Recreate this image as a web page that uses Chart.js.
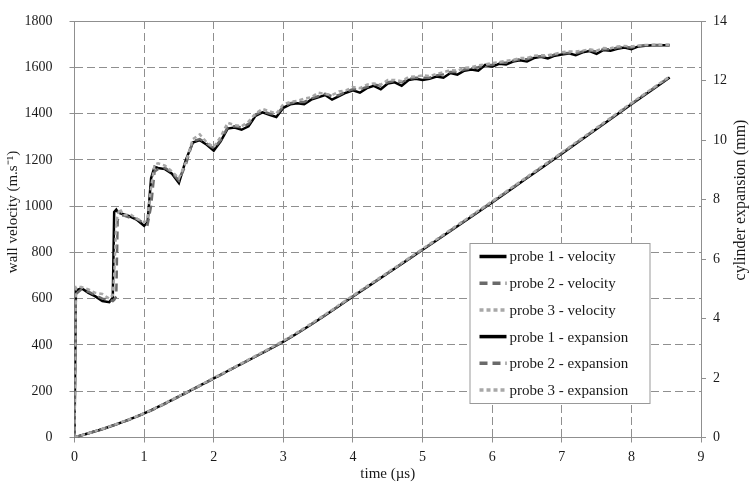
<!DOCTYPE html>
<html>
<head>
<meta charset="utf-8">
<script src="https://cdn.jsdelivr.net/npm/chart.js@4.4.1/dist/chart.umd.min.js"></script>
<style>
  html, body { margin: 0; padding: 0; background: #fff; }
  #wrap { width: 752px; height: 483px; }
</style>
</head>
<body>
<div id="wrap"><canvas id="chart" width="752" height="483"></canvas></div>
<script>
// velocity time base (us)
const velTime = [
  0, 0.02, 0.1, 0.2, 0.3, 0.4, 0.5, 0.55, 0.57, 0.6, 0.62, 0.65, 0.7, 0.8, 0.9, 1.0, 1.05, 1.1, 1.15, 1.2,
  1.3, 1.4, 1.5, 1.6, 1.7, 1.8, 1.9, 2.0,
  2.1, 2.2, 2.3, 2.4, 2.5, 2.6, 2.7, 2.8, 2.9, 3.0,
  3.1, 3.2, 3.3, 3.4, 3.5, 3.6, 3.7, 3.8, 3.9, 4.0,
  4.1, 4.2, 4.3, 4.4, 4.5, 4.6, 4.7, 4.8, 4.9, 5.0,
  5.1, 5.2, 5.3, 5.4, 5.5, 5.6, 5.7, 5.8, 5.9, 6.0,
  6.1, 6.2, 6.3, 6.4, 6.5, 6.6, 6.7, 6.8, 6.9, 7.0,
  7.1, 7.2, 7.3, 7.4, 7.5, 7.6, 7.7, 7.8, 7.9, 8.0,
  8.1, 8.2, 8.3, 8.4, 8.5, 8.55
];

// wall velocity (m/s)
const vel1 = [
  0, 635, 645, 625, 610, 590, 585, 605, 975, 985, 975, 970, 965, 955, 940, 915, 930, 1120, 1170, 1165,
  1160, 1140, 1100, 1200, 1275, 1285, 1265, 1240,
  1280, 1335, 1340, 1330, 1345, 1390, 1405, 1395, 1385, 1425,
  1440, 1445, 1440, 1460, 1470, 1480, 1460, 1475, 1490, 1500,
  1490, 1510, 1520, 1505, 1530, 1535, 1520, 1545, 1550, 1545,
  1550, 1560, 1555, 1575, 1568, 1585, 1590, 1585, 1610, 1603,
  1615, 1612, 1625, 1630, 1625, 1640, 1645, 1638, 1650, 1655,
  1660, 1652, 1665, 1670, 1658, 1675, 1672, 1680, 1685, 1678,
  1690, 1693, 1695, 1695, 1695, 1695
];
const vel2 = [
  0, 620, 640, 630, 615, 600, 595, 590, 595, 610, 940, 955, 960, 950, 945, 925, 920, 1000, 1150, 1160,
  1165, 1145, 1110, 1180, 1280, 1290, 1270, 1250,
  1285, 1340, 1345, 1340, 1355, 1395, 1410, 1400, 1395, 1430,
  1445, 1450, 1450, 1465, 1475, 1485, 1475, 1480, 1495, 1505,
  1505, 1515, 1525, 1520, 1535, 1540, 1535, 1550, 1555, 1555,
  1555, 1565, 1570, 1580, 1580, 1590, 1595, 1600, 1610, 1610,
  1620, 1620, 1628, 1635, 1635, 1645, 1648, 1645, 1655, 1660,
  1662, 1660, 1668, 1672, 1668, 1678, 1678, 1685, 1688, 1685,
  1692, 1695, 1696, 1696, 1696, 1696
];
const vel3 = [
  0, 650, 650, 640, 625, 620, 600, 615, 700, 930, 960, 990, 960, 965, 945, 930, 950, 1080, 1180, 1185,
  1175, 1150, 1120, 1190, 1290, 1310, 1275, 1255,
  1300, 1360, 1350, 1345, 1365, 1400, 1420, 1410, 1400, 1440,
  1450, 1455, 1465, 1470, 1490, 1485, 1480, 1495, 1500, 1515,
  1510, 1525, 1530, 1525, 1545, 1545, 1540, 1558, 1560, 1565,
  1562, 1572, 1578, 1588, 1585, 1598, 1600, 1608, 1612, 1618,
  1622, 1628, 1632, 1640, 1640, 1650, 1652, 1652, 1658, 1665,
  1668, 1668, 1672, 1678, 1672, 1683, 1682, 1690, 1692, 1690,
  1694, 1696, 1697, 1697, 1697, 1697
];

// cylinder expansion (mm)
const expTime = [0, 0.5, 1, 1.5, 2, 2.5, 3, 3.5, 4, 4.5, 5, 5.5, 6, 6.5, 7, 7.5, 8, 8.55];
const exp1 = [0, 0.36, 0.81, 1.38, 1.99, 2.6, 3.22, 3.95, 4.74, 5.52, 6.31, 7.1, 7.9, 8.72, 9.54, 10.37, 11.2, 12.1];
const exp2 = [0, 0.36, 0.8, 1.37, 1.98, 2.6, 3.23, 3.96, 4.75, 5.53, 6.32, 7.12, 7.92, 8.74, 9.56, 10.39, 11.22, 12.12];
const exp3 = [0, 0.37, 0.82, 1.39, 2.0, 2.62, 3.25, 3.98, 4.77, 5.55, 6.34, 7.14, 7.94, 8.76, 9.58, 10.41, 11.24, 12.14];

const seriesLabels = [
  'probe 1 - velocity', 'probe 2 - velocity', 'probe 3 - velocity',
  'probe 1 - expansion', 'probe 2 - expansion', 'probe 3 - expansion'
];

const toPoints = (xs, ys) => xs.map((x, i) => ({ x: x, y: ys[i] }));

const FONT = '"Liberation Serif", "Times New Roman", serif';
const GRID = '#8f8f8f';
const TEXT = '#1a1a1a';

const styles = [
  { color: '#000000', dash: [] },
  { color: '#6a6a6a', dash: [8, 5] },
  { color: '#a8a8a8', dash: [4, 3] }
];

const datasets = [];
[vel1, vel2, vel3].forEach((v, i) => {
  datasets.push({
    label: seriesLabels[i],
    data: toPoints(velTime, v),
    yAxisID: 'y',
    borderColor: styles[i].color,
    borderDash: styles[i].dash,
    borderWidth: 2.5,
    pointRadius: 0,
    tension: 0,
    order: 3 - i
  });
});
[exp1, exp2, exp3].forEach((v, i) => {
  datasets.push({
    label: seriesLabels[i + 3],
    data: toPoints(expTime, v),
    yAxisID: 'y1',
    borderColor: styles[i].color,
    borderDash: styles[i].dash,
    borderWidth: 2.5,
    pointRadius: 0,
    cubicInterpolationMode: 'monotone',
    order: 3 - i
  });
});

// solid top frame line + both vertical axis titles (both read bottom to top)
const frameAndTitles = {
  id: 'frameAndTitles',
  afterDraw(chart) {
    const { ctx, chartArea } = chart;
    ctx.save();
    ctx.strokeStyle = GRID;
    ctx.lineWidth = 1;
    ctx.beginPath();
    ctx.moveTo(chartArea.left, chartArea.top + 0.5);
    ctx.lineTo(chartArea.right, chartArea.top + 0.5);
    ctx.stroke();

    ctx.fillStyle = TEXT;
    ctx.textAlign = 'center';
    ctx.textBaseline = 'middle';
    ctx.font = '15px ' + FONT;
    ctx.save();
    ctx.translate(13, 212);
    ctx.rotate(-Math.PI / 2);
    ctx.fillText('wall velocity (m.s⁻¹)', 0, 0);
    ctx.restore();

    ctx.font = '16px ' + FONT;
    ctx.save();
    ctx.translate(741, 200);
    ctx.rotate(-Math.PI / 2);
    ctx.fillText('cylinder expansion (mm)', 0, 0);
    ctx.restore();
    ctx.restore();
  }
};

// legend box drawn inside the plot
const boxLegend = {
  id: 'boxLegend',
  afterDatasetsDraw(chart) {
    const { ctx, chartArea } = chart;
    const x0 = chartArea.left + 395;
    const y0 = chartArea.top + 222;
    const w = 180, h = 160, rowH = 26.7;
    ctx.save();
    ctx.fillStyle = '#fff';
    ctx.fillRect(x0, y0, w, h);
    ctx.strokeStyle = '#999';
    ctx.lineWidth = 1;
    ctx.strokeRect(x0 + 0.5, y0 + 0.5, w, h);
    ctx.font = '15px ' + FONT;
    ctx.textBaseline = 'middle';
    ctx.fillStyle = TEXT;
    chart.data.datasets.forEach((ds, i) => {
      const cy = y0 + 13.5 + i * rowH;
      ctx.strokeStyle = ds.borderColor;
      ctx.lineWidth = 3.5;
      ctx.setLineDash(ds.borderDash);
      ctx.beginPath();
      ctx.moveTo(x0 + 10, cy);
      ctx.lineTo(x0 + 37, cy);
      ctx.stroke();
      ctx.setLineDash([]);
      ctx.fillText(ds.label, x0 + 40, cy + 1);
    });
    ctx.restore();
  }
};

const tickFont = { family: FONT, size: 14 };
const titleFont = { family: FONT, size: 15 };
const plain = v => String(v);
// fixed box sizes; drop the label overhang padding so layout.padding sets the top
const fixWidth = w => s => { s.width = w; s.paddingTop = 0; s.paddingBottom = 0; };

new Chart(document.getElementById('chart').getContext('2d'), {
  type: 'line',
  data: { datasets: datasets },
  options: {
    responsive: false,
    animation: false,
    layout: { padding: { top: 21, left: 0, right: 0, bottom: 0 } },
    plugins: { legend: { display: false }, tooltip: { enabled: false } },
    scales: {
      x: {
        type: 'linear',
        min: 0, max: 9,
        ticks: { stepSize: 1, font: tickFont, color: TEXT, padding: 6, callback: plain },
        grid: { color: GRID, tickColor: GRID, tickLength: 5, tickBorderDash: [] },
        border: { color: GRID, dash: [8, 4] },
        title: { display: true, text: 'time (µs)', font: titleFont, color: TEXT, padding: { top: 0, bottom: 0 } },
        afterFit: s => { s.height = 45.5; }
      },
      y: {
        position: 'left',
        min: 0, max: 1800,
        ticks: { stepSize: 200, font: tickFont, color: TEXT, padding: 17, callback: plain },
        grid: { color: GRID, tickColor: GRID, tickLength: 5, tickBorderDash: [] },
        border: { color: GRID, dash: [8, 4] },
        afterFit: fixWidth(74.5)
      },
      y1: {
        position: 'right',
        min: 0, max: 14,
        ticks: { stepSize: 2, font: tickFont, color: TEXT, padding: 7, callback: plain },
        grid: { drawOnChartArea: false, color: GRID, tickColor: GRID, tickLength: 5 },
        border: { color: GRID },
        afterFit: fixWidth(51)
      }
    }
  },
  plugins: [frameAndTitles, boxLegend]
});
</script>
</body>
</html>
